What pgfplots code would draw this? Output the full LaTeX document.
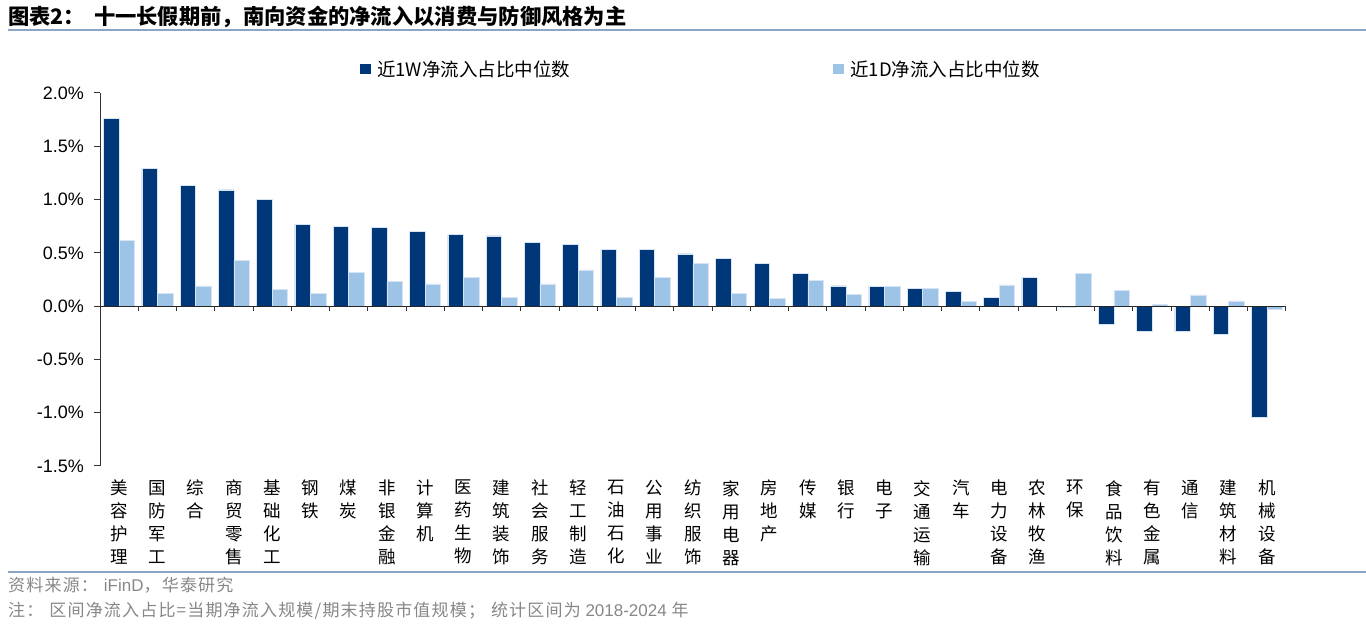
\documentclass[border=0pt]{standalone}
\usepackage{pgfplots}
\pgfplotsset{compat=1.18}
\usepackage{fontspec}
\setmainfont{Liberation Sans}
\newfontfamily\cjk{Noto Sans CJK SC}
\newfontfamily\cjknote{Noto Sans CJK SC}[LetterSpace=7]
\definecolor{dark}{RGB}{0,55,120}
\definecolor{light}{RGB}{157,195,230}
\definecolor{rulecol}{RGB}{141,165,196}
\definecolor{notegray}{RGB}{135,135,135}
\definecolor{edge}{RGB}{214,228,243}
\begin{document}
\begin{tikzpicture}[x=1pt,y=1pt]
\useasboundingbox (0,0) rectangle (1366,632);
\node[anchor=west, inner sep=0pt] at (8,615) {\cjk\bfseries\fontsize{21.3}{21.3}\selectfont 图表2：\hspace{9pt}十一长假期前，南向资金的净流入以消费与防御风格为主};
\draw[rulecol, line width=2.5pt] (8,602) -- (1366,602);
\draw[rulecol, line width=2pt] (8,60) -- (1366,60);
\node[anchor=west, inner sep=0pt, text=notegray] at (8,47) {\fontsize{17}{17}\selectfont{\cjknote 资料来源：}\hspace{6pt}iFinD{\cjknote ，华泰研究}};
\node[anchor=west, inner sep=0pt, text=notegray] at (8,21) {\fontsize{17}{17}\selectfont{\cjknote 注：\hspace{6pt}区间净流入占比=当期净流入规模/期末持股市值规模；\hspace{6pt}统计区间为} 2018-2024 {\cjknote 年}};
\begin{axis}[
  at={(100pt,166pt)}, anchor=south west,
  scale only axis, width=1186pt, height=373pt,
  xmin=-0.5, xmax=30.5, ymin=-1.5, ymax=2.0,
  ybar=0pt, bar width=15.5pt,
  axis y line=left, axis x line=bottom,
  x axis line style={draw=none},
  y axis line style={-, line width=1pt, black!80},
  xtick={0,...,30},
  xtick style={draw=none},
  ytick={-1.5,-1,-0.5,0,0.5,1,1.5,2},
  yticklabels={-1.5\%,-1.0\%,-0.5\%,0.0\%,0.5\%,1.0\%,1.5\%,2.0\%},
  ytick style={line width=1pt, black!80},
  tick align=outside, major tick length=6pt,
  yticklabel style={font=\fontsize{18}{18}\selectfont, inner sep=0pt, anchor=east, xshift=-10pt},
  xticklabel style={align=center, anchor=north, inner sep=0pt, font=\cjk\fontsize{17.5}{23}\selectfont, yshift=-8pt},
  xticklabels={{美\\容\\护\\理},{国\\防\\军\\工},{综\\合},{商\\贸\\零\\售},{基\\础\\化\\工},{钢\\铁},{煤\\炭},{非\\银\\金\\融},{计\\算\\机},{医\\药\\生\\物},{建\\筑\\装\\饰},{社\\会\\服\\务},{轻\\工\\制\\造},{石\\油\\石\\化},{公\\用\\事\\业},{纺\\织\\服\\饰},{家\\用\\电\\器},{房\\地\\产},{传\\媒},{银\\行},{电\\子},{交\\通\\运\\输},{汽\\车},{电\\力\\设\\备},{农\\林\\牧\\渔},{环\\保},{食\\品\\饮\\料},{有\\色\\金\\属},{通\\信},{建\\筑\\材\\料},{机\\械\\设\\备}},
  legend style={at={(0.2192,1.0643)}, anchor=west, draw=none, fill=none, inner sep=0pt, outer sep=0pt,
    legend columns=2, font=\cjk\fontsize{18.5}{18.5}\selectfont, cells={anchor=west}},
  legend image code/.code={\path[#1, draw=none] (0pt,-5.3pt) rectangle (10.7pt,5.3pt); \path (15pt,0pt);},
]
\addplot[fill=dark, draw=edge, line width=0.5pt] coordinates {
(0,1.76) (1,1.29) (2,1.13) (3,1.09) (4,1.00) (5,0.77) (6,0.75) (7,0.74) (8,0.70) (9,0.67)
(10,0.66) (11,0.60) (12,0.58) (13,0.53) (14,0.53) (15,0.49) (16,0.45) (17,0.40) (18,0.31) (19,0.19)
(20,0.185) (21,0.17) (22,0.14) (23,0.085) (24,0.27) (25,-0.01) (26,-0.17) (27,-0.24) (28,-0.24) (29,-0.26) (30,-1.04)};
\addlegendentry{\makebox[454pt][l]{近1W净流入占比中位数}}
\addplot[fill=light, draw=edge, line width=0.5pt] coordinates {
(0,0.62) (1,0.12) (2,0.19) (3,0.43) (4,0.16) (5,0.12) (6,0.32) (7,0.23) (8,0.21) (9,0.27)
(10,0.08) (11,0.21) (12,0.34) (13,0.085) (14,0.27) (15,0.40) (16,0.12) (17,0.07) (18,0.24) (19,0.11)
(20,0.185) (21,0.17) (22,0.045) (23,0.20) (24,0) (25,0.31) (26,0.145) (27,0.02) (28,0.105) (29,0.05) (30,-0.025)};
\addlegendentry{近1D净流入占比中位数}
\draw[black!85, line width=1pt] (axis cs:-0.5,0) -- (axis cs:30.5,0);
\pgfplotsinvokeforeach{0.5,1.5,...,30.5}{\draw[black!80, line width=1pt] (axis cs:#1,0) -- ++(0pt,-5pt);}
\end{axis}
\end{tikzpicture}
\end{document}
